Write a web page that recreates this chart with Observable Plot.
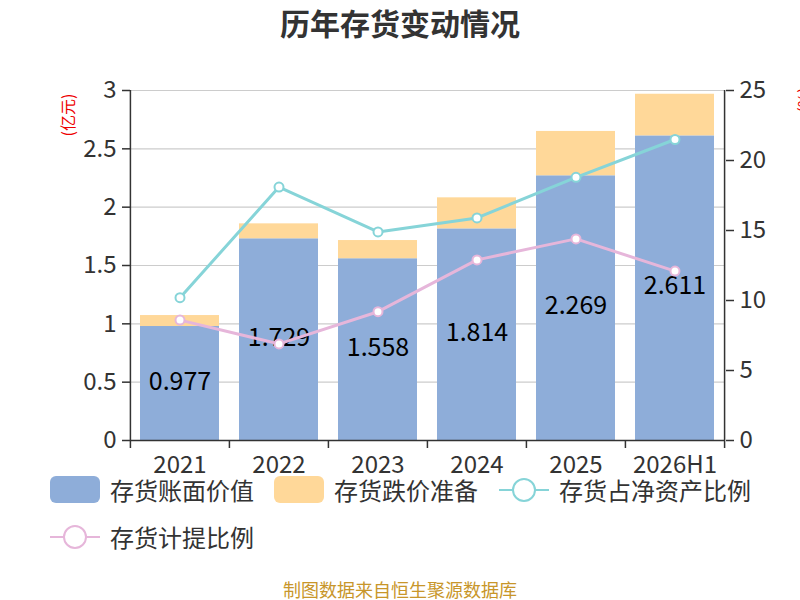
<!DOCTYPE html>
<html>
<head>
<meta charset="utf-8">
<script src="https://cdn.jsdelivr.net/npm/d3@7"></script>
<script src="https://cdn.jsdelivr.net/npm/@observablehq/plot@0.6"></script>
<style>
  html, body { margin: 0; padding: 0; background: #fff; }
  body { font-family: "Noto Sans CJK SC", "Noto Sans", sans-serif; }
  #wrap { position: relative; width: 800px; height: 600px; overflow: hidden; }
  #title { position: absolute; top: 6px; left: 0; width: 800px; text-align: center; font-size: 30px; line-height: 32px; font-weight: bold; color: #333; }
  #chart { position: absolute; top: 0; left: 0; }
  .ylab { position: absolute; color: #e00; font-size: 16px; line-height: 18px; transform: rotate(-90deg); transform-origin: center; white-space: nowrap; }
  .leg { position: absolute; display: flex; align-items: center; font-size: 24px; color: #333; white-space: nowrap; }
  .sw { width: 50px; height: 27px; border-radius: 6px; margin-right: 10px; }
  #footer { position: absolute; top: 579px; left: 0; width: 800px; text-align: center; font-size: 18px; line-height: 20px; color: #c8962a; }
</style>
</head>
<body>
<div id="wrap">
  <div id="title">历年存货变动情况</div>
  <div id="chart"></div>
  <div class="ylab" style="left:46px; top:106px;">(亿元)</div>
  <div class="ylab" style="left:790px; top:91px;">(%)</div>
  <div class="leg" style="left:50px; top:472px;"><div class="sw" style="background:#8eadd9"></div>存货账面价值</div>
  <div class="leg" style="left:274px; top:472px;"><div class="sw" style="background:#ffd899"></div>存货跌价准备</div>
  <div class="leg" style="left:499px; top:472px;"><svg width="50" height="30" style="margin-right:10px"><line x1="0" y1="15" x2="50" y2="15" stroke="#86d4d8" stroke-width="2"/><circle cx="25" cy="15" r="11" fill="#fff" stroke="#86d4d8" stroke-width="2"/></svg>存货占净资产比例</div>
  <div class="leg" style="left:50px; top:519px;"><svg width="50" height="30" style="margin-right:10px"><line x1="0" y1="15" x2="50" y2="15" stroke="#e6b6da" stroke-width="2"/><circle cx="25" cy="15" r="11" fill="#fff" stroke="#e6b6da" stroke-width="2"/></svg>存货计提比例</div>
  <div id="footer">制图数据来自恒生聚源数据库</div>
</div>
<script>
const years = ["2021", "2022", "2023", "2024", "2025", "2026H1"];
const bookValue = [0.977, 1.729, 1.558, 1.814, 2.269, 2.611];      // 存货账面价值 (亿元)
const reserve = [0.094, 0.128, 0.156, 0.266, 0.380, 0.357];        // 存货跌价准备 (亿元)
const netAssetRatio = [10.2, 18.1, 14.9, 15.9, 18.8, 21.5];        // 存货占净资产比例 (%)
const provisionRatio = [8.6, 6.9, 9.2, 12.9, 14.4, 12.1];          // 存货计提比例 (%)
const leftTicks = [0, 0.5, 1, 1.5, 2, 2.5, 3];
const rightTicks = [0, 5, 10, 15, 20, 25];

const leftMax = 3, rightMax = 25;
const toLeft = v => v * leftMax / rightMax;

const seriesBook = "存货账面价值", seriesReserve = "存货跌价准备";
const stacked = years.flatMap((y, i) => [
  {year: y, series: seriesBook, value: bookValue[i]},
  {year: y, series: seriesReserve, value: reserve[i]}
]);
const rows = years.map((y, i) => ({year: y, book: bookValue[i], nar: netAssetRatio[i], pr: provisionRatio[i]}));

const W = 800, H = 480, mL = 130, mR = 75, mT = 90, mB = 40;
const step = (W - mL - mR) / years.length;

const plot = Plot.plot({
  width: W, height: H,
  marginLeft: mL, marginRight: mR, marginTop: mT, marginBottom: mB,
  style: {fontFamily: '"Noto Sans CJK SC", "Noto Sans", sans-serif', color: "#333", background: "transparent"},
  x: {domain: years, paddingInner: 0.2, paddingOuter: 0.1, axis: null},
  y: {domain: [0, leftMax], axis: null},
  color: {domain: [seriesBook, seriesReserve], range: ["#8eadd9", "#ffd899"]},
  marks: [
    Plot.ruleY(leftTicks.filter(d => d > 0), {stroke: "#cccccc", strokeWidth: 1.2}),
    Plot.barY(stacked, {x: "year", y: "value", fill: "series", order: [seriesBook, seriesReserve]}),
    Plot.text(rows, {x: "year", y: d => d.book / 2, text: d => d.book.toFixed(3), fontSize: 25, dy: -2, fill: "#000"}),
    Plot.line(rows, {x: "year", y: d => toLeft(d.nar), stroke: "#86d4d8", strokeWidth: 3}),
    Plot.line(rows, {x: "year", y: d => toLeft(d.pr), stroke: "#e6b6da", strokeWidth: 3}),
    Plot.dot(rows, {x: "year", y: d => toLeft(d.nar), r: 4.5, fill: "#fff", stroke: "#86d4d8", strokeWidth: 2}),
    Plot.dot(rows, {x: "year", y: d => toLeft(d.pr), r: 4.5, fill: "#fff", stroke: "#e6b6da", strokeWidth: 2}),
    // axis lines
    Plot.ruleY([0], {stroke: "#333", strokeWidth: 1.5}),
    Plot.ruleX([years[0]], {dx: -step / 2, y1: 0, y2: leftMax, stroke: "#333", strokeWidth: 1.5}),
    Plot.ruleX([years[years.length - 1]], {dx: step / 2, y1: 0, y2: leftMax, stroke: "#333", strokeWidth: 1.5}),
    // x boundary ticks
    Plot.ruleX(years, {dx: -step / 2, y1: 0, y2: 0, insetBottom: -8, stroke: "#333", strokeWidth: 1.5}),
    Plot.ruleX([years[years.length - 1]], {dx: step / 2, y1: 0, y2: 0, insetBottom: -8, stroke: "#333", strokeWidth: 1.5}),
    Plot.axisX({tickSize: 0, tickPadding: 15, fontSize: 24, label: null, fill: "#333"}),
    Plot.axisY({anchor: "left", ticks: leftTicks, tickSize: 8, tickPadding: 6, fontSize: 24, label: null, stroke: "#333", strokeWidth: 1.5, tickFormat: d => String(d)}),
    Plot.axisY({anchor: "right", ticks: rightTicks.map(toLeft), tickSize: 8, tickPadding: 6, fontSize: 24, label: null, stroke: "#333", strokeWidth: 1.5,
      tickFormat: d => String(Math.round(d * rightMax / leftMax))})
  ]
});
document.getElementById("chart").appendChild(plot);
</script>
</body>
</html>
